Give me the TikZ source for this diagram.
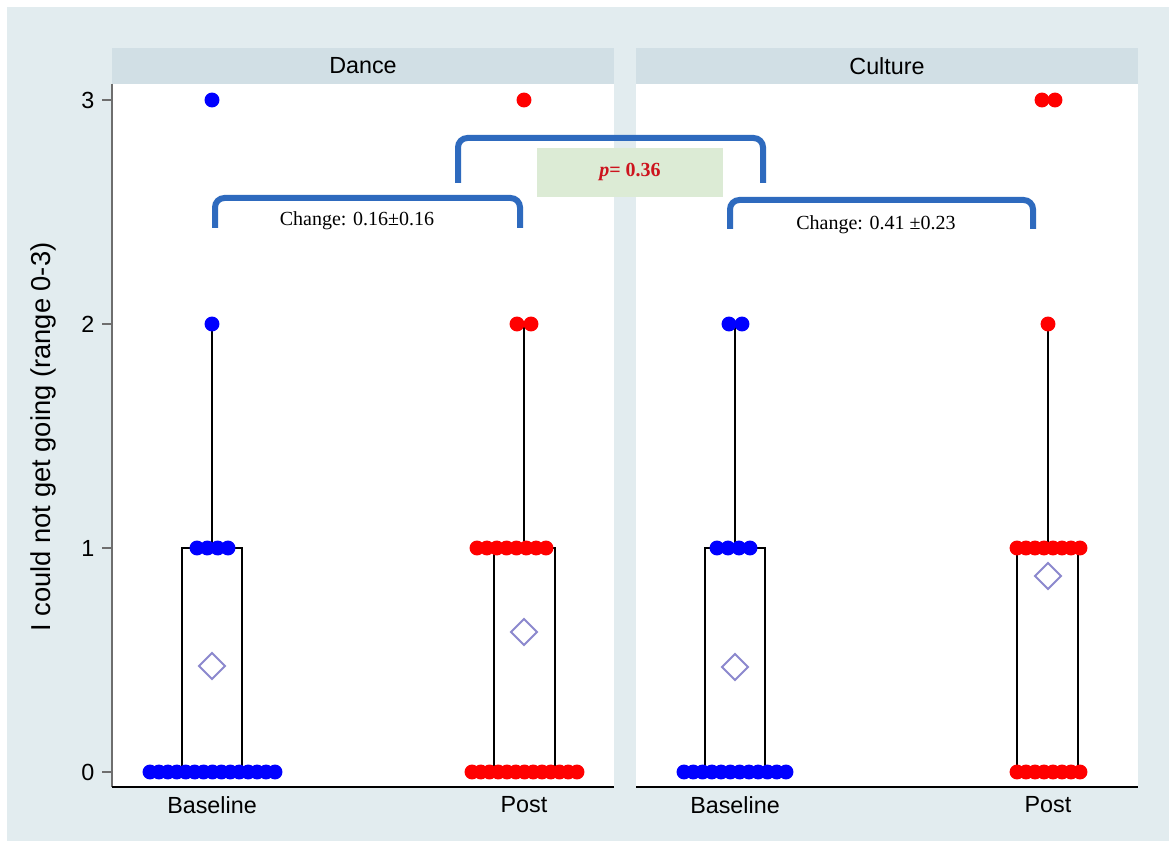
\documentclass[tikz,border=0pt]{standalone}
\usepackage{fontspec}
\setmainfont{Liberation Serif}
\setsansfont{Liberation Sans}
\definecolor{bgcol}{RGB}{226,236,239}
\definecolor{stripcol}{RGB}{209,223,229}
\definecolor{pboxcol}{RGB}{220,235,213}
\definecolor{brackcol}{RGB}{46,106,190}
\definecolor{meancol}{RGB}{140,136,206}
\definecolor{ptext}{RGB}{205,20,30}
\definecolor{axcol}{RGB}{110,110,110}

% one stacked row of dots: colour, y, first x, last x, intervals
\newcommand{\dotrow}[5]{%
  \foreach \i in {0,...,#5}
    \fill[#1] ({#3+\i*(#4-#3)/#5},#2) circle (5.6pt);}
\newcommand{\meanmark}[2]{%
  \draw[meancol,line width=1.5pt] (#1,#2-13) -- (#1+13,#2) -- (#1,#2+13) -- (#1-13,#2) -- cycle;}

\begin{document}
\begin{tikzpicture}[x=0.75pt,y=-0.75pt,
  lab/.style={font=\sffamily\fontsize{17.5}{20}\selectfont},
  note/.style={font=\fontsize{15}{17}\selectfont},
  brack/.style={brackcol,line width=4.5pt,rounded corners=7pt},
  box/.style={line width=1.1pt}]
\useasboundingbox (0,0) rectangle (1169,841);
\fill[white] (0,0) rectangle (1169,841);
\fill[bgcol] (7,7) rectangle (1169,841);

% panels
\fill[stripcol] (112,48) rectangle (614,84);
\fill[stripcol] (636,48) rectangle (1138,84);
\fill[white] (112,84) rectangle (614,787);
\fill[white] (636,84) rectangle (1138,787);
\node[lab] (dance) at (363,66) {Dance};
\node[lab] (culture) at (887,66) {Culture};

% axes
\draw[axcol,line width=1.2pt] (112,84) -- (112,787);
\draw[black,line width=1pt] (112,787) -- (614,787);
\draw[black,line width=1pt] (636,787) -- (1138,787);
\foreach \v/\y in {0/772,1/548,2/324,3/100}
{
   \draw[axcol,line width=1pt] (102,\y) -- (112,\y);
   \node[lab,anchor=east] (tick\v) at (99,\y) {\v};
}
\node[lab,font=\sffamily\fontsize{20.5}{22}\selectfont,rotate=90] (ylab) at (43,437) {I could not get going (range 0-3)};
\foreach \x/\t/\n in {212/Baseline/db, 524/Post/dp, 735/Baseline/cb, 1048/Post/cp}
{
   \node[lab] (\n) at (\x,805) {\t};
}

% boxes and whiskers
\foreach \l/\m/\r in {182/212/242, 494/524/555, 705/735/765, 1017/1048/1078}
{
   \draw[box] (\l,772) rectangle (\r,548);
   \draw[line width=1.6pt] (\m,548) -- (\m,324);
}

% Dance, baseline
\dotrow{blue}{772}{150}{275}{14}
\dotrow{blue}{548}{197}{228}{3}
\fill[blue] (212,324) circle (5.6pt);
\fill[blue] (212,100) circle (5.6pt);
% Dance, post
\dotrow{red}{772}{472}{577}{12}
\dotrow{red}{548}{477}{546}{7}
\dotrow{red}{324}{517}{531}{1}
\fill[red] (524,100) circle (5.6pt);
% Culture, baseline
\dotrow{blue}{772}{684}{786}{11}
\dotrow{blue}{548}{717}{750}{3}
\dotrow{blue}{324}{729}{742}{1}
% Culture, post
\dotrow{red}{772}{1017}{1080}{7}
\dotrow{red}{548}{1017}{1080}{7}
\fill[red] (1048,324) circle (5.6pt);
\dotrow{red}{100}{1042}{1055}{1}

% means
\meanmark{212}{666}
\meanmark{524}{632}
\meanmark{735}{667}
\meanmark{1048}{576}

% brackets
\draw[brack] (215,228) -- (215,198) -- (520,198) -- (520,228);
\draw[brack] (730,229) -- (730,200) -- (1033,200) -- (1033,229);
\draw[brack] (458,183) -- (458,138) -- (763,138) -- (763,183);
\fill[pboxcol] (537,148) rectangle (723,197);
\node[ptext,font=\bfseries\fontsize{15}{17}\selectfont] (pval) at (630,172) {\textit{p}= 0.36};
\node[note] (chdance) at (357,221) {Change: 0.16±0.16};
\node[note] (chculture) at (876,225) {Change: 0.41 ±0.23};

\end{tikzpicture}
\end{document}
